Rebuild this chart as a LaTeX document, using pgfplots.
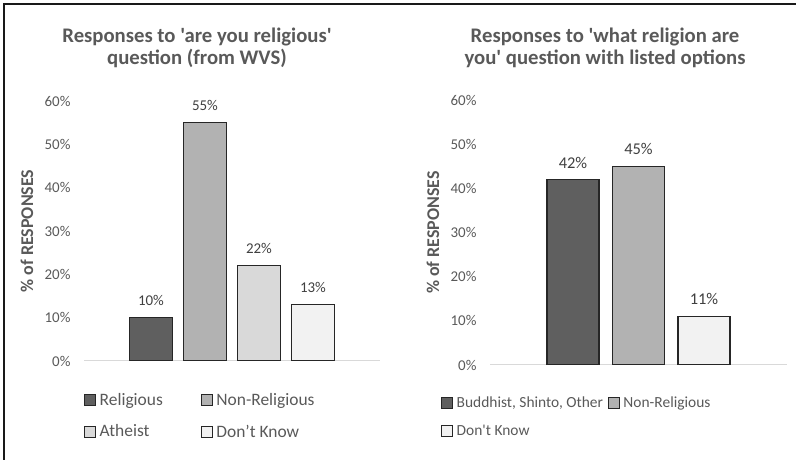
\documentclass[border=0pt]{standalone}
\usepackage{fontspec}
\setmainfont{Carlito}[Ligatures=TeXOff]
\usepackage{pgfplots}
\pgfplotsset{compat=1.18}

\definecolor{txt}{HTML}{595959}
\definecolor{lbl}{HTML}{404040}
\definecolor{cRel}{HTML}{5F5F5F}
\definecolor{cNon}{HTML}{B2B2B2}
\definecolor{cAth}{HTML}{D9D9D9}
\definecolor{cDK}{HTML}{F2F2F2}
\definecolor{edge}{HTML}{262626}
\definecolor{base}{HTML}{D9D9D9}

\pgfplotsset{
  relchart/.style={
    scale only axis,
    anchor=south west,
    ybar,
    xmin=-0.5, xmax=0.5,
    ymin=0, ymax=60,
    ytick={0,10,...,60},
    xtick=\empty,
    /pgf/number format/.cd, fixed, precision=0, assume math mode=true, /pgfplots/.cd,
    yticklabel={\pgfmathprintnumber{\tick}\%},
    axis x line*=bottom,
    axis y line*=left,
    x axis line style={draw=base, line width=1bp, -},
    y axis line style={draw=none},
    major tick length=0pt,
    tick style={draw=none},
    ticklabel style={text=txt, font=\fontsize{15}{18}\selectfont},
    yticklabel style={xshift=-10bp},
    ylabel={\% of RESPONSES},
    % the label is rotated, so its local y points to the left
    ylabel style={font=\bfseries\fontsize{18}{20}\selectfont, text=txt,
      at={(axis description cs:0,0.5)}, anchor=center, yshift=57bp},
    title style={font=\bfseries\fontsize{20.8}{22}\selectfont, text=txt,
      align=center, at={(axis description cs:0.5,1)}, anchor=center},
    nodes near coords={\pgfmathprintnumber{\pgfplotspointmeta}\%},
    nodes near coords style={text=lbl, font=\fontsize{15}{18}\selectfont,
      anchor=center, yshift=17bp},
    every axis plot/.append style={draw=edge, line width=1.3bp},
    % legend swatch: small outlined square, with a little room before the text
    every axis plot post/.append style={
      legend image code/.code={%
        \draw[##1, line width=1bp] (0bp,-5.5bp) rectangle (11bp,5.5bp);
        \path[draw=none, fill=none] (0bp,0bp) -- (13bp,0bp);}},
    legend style={draw=none, fill=none, text=txt, anchor=north west, inner sep=0pt},
    legend cell align=left,
    legend columns=2,
  }
}

\begin{document}
\begin{tikzpicture}[x=1bp,y=1bp]
\useasboundingbox (0,0) rectangle (796,460);
\draw[line width=1.5bp, black!90] (4,0) -- (4,456) -- (796,456);

% World Values Survey answers
\begin{axis}[relchart,
  at={(84bp,99bp)}, width=296bp, height=260bp,
  bar width=43bp, ybar=11bp,
  title={Responses to 'are you religious'\\question (from WVS)},
  title style={xshift=-35bp, yshift=47bp},
  legend style={at={(axis description cs:0,0)}, yshift=-30bp,
    font=\fontsize{17.5}{20}\selectfont,
    /tikz/every even column/.append style={column sep=36bp},
    row sep=14bp},
]
\addplot[fill=cRel] coordinates {(0,10)};
\addplot[fill=cNon] coordinates {(0,55)};
\addplot[fill=cAth] coordinates {(0,22)};
\addplot[fill=cDK] coordinates {(0,13)};
\legend{Religious, Non-Religious, Atheist, Don’t Know}
\end{axis}

% Answers when the options are listed
\begin{axis}[relchart,
  at={(490bp,95bp)}, width=297bp, height=265bp,
  bar width=52bp, ybar=13.5bp,
  nodes near coords style={font=\fontsize{16.5}{18}\selectfont},
  title={Responses to 'what religion are\\you' question with listed options},
  title style={xshift=-33.5bp, yshift=46bp},
  legend style={at={(axis description cs:0,0)}, xshift=-49bp, yshift=-30bp,
    font=\fontsize{15.5}{18}\selectfont,
    /tikz/every even column/.append style={column sep=3bp},
    row sep=12bp},
]
\addplot[fill=cRel] coordinates {(0,42)};
\addplot[fill=cNon] coordinates {(0,45)};
\addplot[fill=cDK] coordinates {(0,11)};
\legend{{Buddhist, Shinto, Other}, Non-Religious, Don't Know}
\end{axis}
\end{tikzpicture}
\end{document}
